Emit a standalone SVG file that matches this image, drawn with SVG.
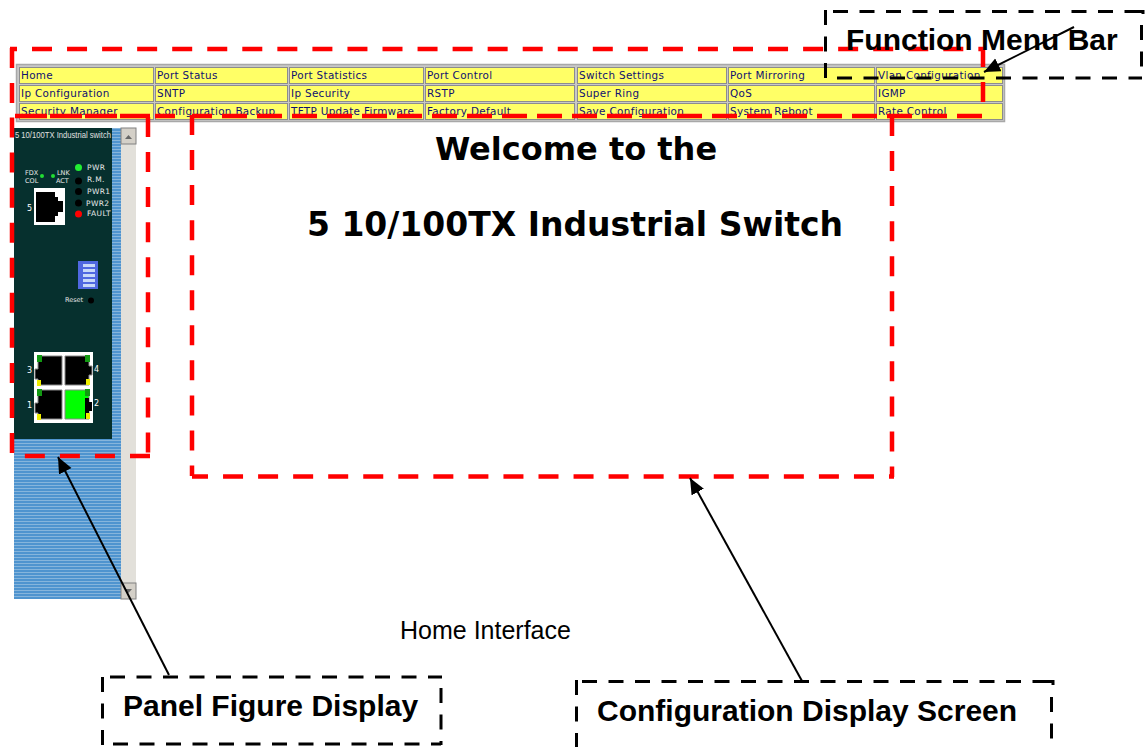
<svg xmlns="http://www.w3.org/2000/svg" width="1146" height="747" viewBox="0 0 1146 747">
<style>
.cell{fill:#ffff66;stroke:#8c8c8c;stroke-width:1}
.m{font:10.4px "DejaVu Sans",Verdana,sans-serif;fill:#101070;letter-spacing:.33px}
.red{fill:none;stroke:#ff0000;stroke-width:4.500;stroke-dasharray:20 15.050}
.red2{fill:none;stroke:#ff0000;stroke-width:4.500;stroke-dasharray:25 10}
.blk{fill:none;stroke:#000;stroke-width:3;stroke-dasharray:15 11.500}
.lbl{font:bold 30px "Liberation Sans",Arial,sans-serif;fill:#000}
.wel{font:bold 32px "DejaVu Sans",Verdana,sans-serif;fill:#000;text-anchor:middle}
.p{font:7.500px "DejaVu Sans",sans-serif;fill:#e8e8e8;letter-spacing:.4px}
.ps{font:6.500px "DejaVu Sans",sans-serif;fill:#e8e8e8}
.n{font:8px "DejaVu Sans",sans-serif;fill:#fff}
.conn{stroke:#000;stroke-width:2;fill:none;marker-end:url(#ah)}
.port{fill:#000;stroke:#888;stroke-width:1}
</style>
<defs>
<pattern id="st" width="4" height="3" patternUnits="userSpaceOnUse"><rect width="4" height="3" fill="#4f94cf"/><rect y="2" width="4" height="1" fill="#86b5dc"/></pattern>
<marker id="ah" markerUnits="userSpaceOnUse" markerWidth="18" markerHeight="16" refX="16" refY="7" orient="auto"><path d="M0 0L16 7L0 14z" fill="#000"/></marker>
</defs>
<rect width="1146" height="747" fill="#fff"/>
<g id="menu-table">
<rect x="16.500" y="64.500" width="988" height="57" fill="#c8c8c8" stroke="#a8a8a8" stroke-width="1.500"/>
<g id="menu-cells">
<rect class="cell" x="19.500" y="67.500" width="134" height="16"/><rect class="cell" x="155.500" y="67.500" width="132" height="16"/><rect class="cell" x="289.500" y="67.500" width="134" height="16"/><rect class="cell" x="425.500" y="67.500" width="149" height="16"/><rect class="cell" x="577.500" y="67.500" width="149" height="16"/><rect class="cell" x="728.500" y="67.500" width="146" height="16"/><rect class="cell" x="876.500" y="67.500" width="126" height="16"/>
<rect class="cell" x="19.500" y="85.500" width="134" height="16"/><rect class="cell" x="155.500" y="85.500" width="132" height="16"/><rect class="cell" x="289.500" y="85.500" width="134" height="16"/><rect class="cell" x="425.500" y="85.500" width="149" height="16"/><rect class="cell" x="577.500" y="85.500" width="149" height="16"/><rect class="cell" x="728.500" y="85.500" width="146" height="16"/><rect class="cell" x="876.500" y="85.500" width="126" height="16"/>
<rect class="cell" x="19.500" y="103.500" width="134" height="16"/><rect class="cell" x="155.500" y="103.500" width="132" height="16"/><rect class="cell" x="289.500" y="103.500" width="134" height="16"/><rect class="cell" x="425.500" y="103.500" width="149" height="16"/><rect class="cell" x="577.500" y="103.500" width="149" height="16"/><rect class="cell" x="728.500" y="103.500" width="146" height="16"/><rect class="cell" x="876.500" y="103.500" width="126" height="16"/>
</g>
<g id="menu-text">
<text class="m" x="21" y="79">Home</text><text class="m" x="157" y="79">Port Status</text><text class="m" x="291" y="79">Port Statistics</text><text class="m" x="427" y="79">Port Control</text><text class="m" x="579" y="79">Switch Settings</text><text class="m" x="730" y="79">Port Mirroring</text><text class="m" x="878" y="79">Vlan Configuration</text>
<text class="m" x="21" y="97">Ip Configuration</text><text class="m" x="157" y="97">SNTP</text><text class="m" x="291" y="97">Ip Security</text><text class="m" x="427" y="97">RSTP</text><text class="m" x="579" y="97">Super Ring</text><text class="m" x="730" y="97">QoS</text><text class="m" x="878" y="97">IGMP</text>
<text class="m" x="21" y="115">Security Manager</text><text class="m" x="157" y="115">Configuration Backup</text><text class="m" x="291" y="115">TFTP Update Firmware</text><text class="m" x="427" y="115">Factory Default</text><text class="m" x="579" y="115">Save Configuration</text><text class="m" x="730" y="115">System Reboot</text><text class="m" x="878" y="115">Rate Control</text>
</g>
</g>
<g id="panel">
<rect x="14" y="128" width="107" height="471" fill="url(#st)"/>
<rect x="121" y="128" width="15" height="471" fill="#e2e0da"/>
<rect x="121" y="128" width="15" height="16" fill="#d4d0c8" stroke="#808080"/>
<path d="M125 139h7l-3.500-4z" fill="#666"/>
<rect x="121" y="583" width="15" height="16" fill="#d4d0c8" stroke="#808080"/>
<path d="M125 589h7l-3.500 4z" fill="#666"/>
<rect x="14" y="128" width="98" height="311" fill="#06302e"/>
<text x="15" y="138" font-family="Liberation Sans,Arial,sans-serif" font-size="9.500" fill="#e0e0e0" textLength="96" lengthAdjust="spacingAndGlyphs">5 10/100TX Industrial switch</text>
<text class="ps" x="25" y="175">FDX</text><text class="ps" x="25" y="183">COL</text>
<text class="ps" x="57" y="175">LNK</text><text class="ps" x="56" y="183">ACT</text>
<circle cx="42" cy="176" r="2" fill="#22dd33"/><circle cx="53" cy="176" r="2" fill="#22dd33"/>
<circle cx="78.500" cy="167.500" r="3.500" fill="#22ee33"/><circle cx="78.500" cy="181" r="3.500" fill="#000"/><circle cx="78.500" cy="191.500" r="3.500" fill="#000"/><circle cx="78.500" cy="203" r="3.500" fill="#000"/><circle cx="78.500" cy="214" r="3.500" fill="#ff0000"/>
<text class="p" x="87" y="170">PWR</text><text class="p" x="87" y="182">R.M.</text><text class="p" x="87" y="194">PWR1</text><text class="p" x="86" y="206">PWR2</text><text class="p" x="87" y="216">FAULT</text>
<rect x="34" y="188" width="31" height="37" fill="#fff"/>
<path d="M36 192H55V197H58V201H63V212H58V216H55V222H36z" fill="#000"/>
<text class="n" x="27" y="211">5</text>
<rect x="78" y="261" width="20" height="28" fill="#5068e0"/>
<g fill="#c8d8f8"><rect x="83" y="264" width="12" height="3"/><rect x="83" y="269" width="12" height="3"/><rect x="83" y="274" width="12" height="3"/><rect x="83" y="279" width="12" height="3"/><rect x="83" y="284" width="12" height="3"/></g>
<text class="ps" x="65" y="302">Reset</text><circle cx="91" cy="300.500" r="3" fill="#000"/>
<rect x="34" y="352" width="59" height="71" fill="#fff"/>
<path class="port" d="M38 356H62V385H38V379H35V369H38z"/>
<path class="port" d="M65 356H89V366H92V375H89V385H65z"/>
<path class="port" d="M38 390H62V419H38V413H35V403H38z"/>
<path class="port" d="M65 390H89V419H65z" style="fill:#00ff00"/>
<path d="M85 398H89V402H92V411H89V419H85z" fill="#000"/>
<rect x="37" y="355" width="5" height="7" fill="#129912"/><rect x="85" y="355" width="5" height="7" fill="#129912"/><rect x="37" y="389" width="5" height="7" fill="#129912"/><rect x="85" y="389" width="5" height="7" fill="#129912"/>
<rect x="37" y="380" width="4" height="6" fill="#eeee00"/><rect x="86" y="379" width="4" height="6" fill="#eeee00"/><rect x="37" y="414" width="4" height="6" fill="#eeee00"/><rect x="86" y="413" width="4" height="6" fill="#eeee00"/>
<text class="n" x="27" y="373">3</text><text class="n" x="94" y="372">4</text><text class="n" x="27" y="408">1</text><text class="n" x="94" y="406">2</text>
</g>
<g id="welcome">
<text class="wel" x="576" y="160">Welcome to the</text>
<text class="wel" x="575" y="236" style="font-size:33px">5 10/100TX Industrial Switch</text>
</g>
<text id="caption" x="400" y="639" font-family="Liberation Sans,Arial,sans-serif" font-size="25" fill="#000">Home Interface</text>
<g id="highlight-menu">
<path d="M10 49H17" stroke="#ff0000" stroke-width="4.500"/>
<path class="red" d="M32 49H983"/>
<path class="red" d="M12 48V103"/>
<path class="red" d="M983 47V102"/>
<path class="red2" d="M982 116H222"/>
</g>
<g id="highlight-panel">
<path class="red2" style="stroke-dasharray:32 3" d="M15 116H150"/>
<path class="red" d="M148 117V456"/>
<path class="red" d="M150 456H12"/>
<path class="red" d="M12 453V116"/>
</g>
<g id="highlight-config">
<path class="red" d="M155 116H175M192 116H212"/>
<path class="red" d="M192 115V476"/>
<path class="red" d="M892 116V477"/>
<path class="red" style="stroke-dashoffset:15" d="M894 476.500H192"/>
</g>
<g id="connectors">
<path class="conn" d="M1074 27L984 72"/>
<path class="conn" d="M169 675L58 457"/>
<path class="conn" d="M802 681L690 478"/>
</g>
<g id="label-function">
<path class="blk" d="M833 11.500H1142M825.500 10V78M837 78H1142M1141.500 25V78"/>
<path d="M1136 11.500H1143V14" fill="none" stroke="#000" stroke-width="3"/>
<text class="lbl" x="846" y="50">Function Menu Bar</text>
</g>
<g id="label-panel">
<path class="blk" d="M110 677H442M441 688V745M113 744H441M102.500 677V745"/>
<text class="lbl" x="123" y="716">Panel Figure Display</text>
</g>
<g id="label-config">
<path class="blk" d="M582 681.500H1052M576.500 680V747M1051.500 697V747"/>
<path d="M1047 681.500H1053V685" fill="none" stroke="#000" stroke-width="3"/>
<text class="lbl" x="597" y="721">Configuration Display Screen</text>
</g>
</svg>
